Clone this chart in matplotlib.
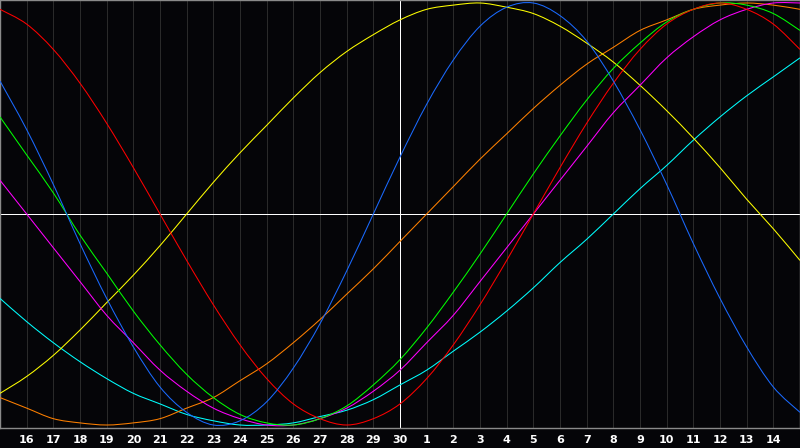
import matplotlib

matplotlib.use("Agg")
import matplotlib.pyplot as plt
import numpy as np
from matplotlib.patches import PathPatch
from matplotlib.path import Path

# Day labels under the grid lines (positions 1..29)
DAY_LABELS = ["16", "17", "18", "19", "20", "21", "22", "23", "24", "25", "26", "27", "28", "29", "30",
              "1", "2", "3", "4", "5", "6", "7", "8", "9", "10", "11", "12", "13", "14"]

# Cycle values read per day position 0..30 (-1 .. 1)
physical = [0.63, 0.40, 0.14, -0.14, -0.40, -0.63, -0.82, -0.94, -1.00, -0.98, -0.89, -0.73, -0.52, -0.27, 0.00,
            0.27, 0.52, 0.73, 0.89, 0.98, 1.00, 0.94, 0.82, 0.63, 0.40, 0.14, -0.14, -0.40, -0.63, -0.82, -0.94]
emotional = [0.97, 0.90, 0.78, 0.62, 0.43, 0.22, 0.00, -0.22, -0.43, -0.62, -0.78, -0.90, -0.97, -1.00, -0.97,
             -0.90, -0.78, -0.62, -0.43, -0.22, 0.00, 0.22, 0.43, 0.62, 0.78, 0.90, 0.97, 1.00, 0.97, 0.90, 0.78]
intellectual = [0.46, 0.28, 0.10, -0.10, -0.28, -0.46, -0.62, -0.76, -0.87, -0.95, -0.99, -1.00, -0.97, -0.91, -0.81,
                -0.69, -0.54, -0.37, -0.19, 0.00, 0.19, 0.37, 0.54, 0.69, 0.81, 0.91, 0.97, 1.00, 0.99, 0.95, 0.87]
intuitive = [0.16, 0.00, -0.16, -0.32, -0.48, -0.61, -0.74, -0.84, -0.92, -0.97, -1.00, -1.00, -0.97, -0.92, -0.84,
             -0.74, -0.61, -0.48, -0.32, -0.16, 0.00, 0.16, 0.32, 0.48, 0.61, 0.74, 0.84, 0.92, 0.97, 1.00, 1.00]
aesthetic = [-0.85, -0.77, -0.67, -0.55, -0.42, -0.29, -0.15, 0.00, 0.15, 0.29, 0.42, 0.55, 0.67, 0.77, 0.85,
             0.92, 0.97, 0.99, 1.00, 0.98, 0.95, 0.89, 0.81, 0.72, 0.61, 0.49, 0.36, 0.22, 0.07, -0.07, -0.22]
awareness = [-0.87, -0.92, -0.97, -0.99, -1.00, -0.99, -0.97, -0.92, -0.87, -0.79, -0.71, -0.61, -0.50, -0.38, -0.26,
             -0.13, 0.00, 0.13, 0.26, 0.38, 0.50, 0.61, 0.71, 0.79, 0.87, 0.92, 0.97, 0.99, 1.00, 0.99, 0.97]
spiritual = [-0.40, -0.51, -0.61, -0.70, -0.78, -0.85, -0.90, -0.95, -0.98, -1.00, -1.00, -0.99, -0.96, -0.93, -0.88,
             -0.81, -0.74, -0.65, -0.56, -0.46, -0.35, -0.23, -0.12, 0.00, 0.12, 0.23, 0.35, 0.46, 0.56, 0.65, 0.74]

TODAY_POS = 15

BG = "#050508"
GRID = "#2a2a2a"
BORDER = "#8a8a8a"

series = [
    (spiritual, "#00ffff"),
    (awareness, "#ff8000"),
    (aesthetic, "#ffff00"),
    (intuitive, "#ff00ff"),
    (intellectual, "#00ff00"),
    (emotional, "#ff0000"),
    (physical, "#1a6aff"),
]


def _smooth_path(xs, ys):
    """Catmull-Rom through the day points, drawn as cubic Bezier segments."""
    pts = np.column_stack([xs, ys]).astype(float)
    verts = [pts[0]]
    codes = [Path.MOVETO]
    n = len(pts)
    for i in range(n - 1):
        p0 = pts[i - 1] if i > 0 else pts[i]
        p1, p2 = pts[i], pts[i + 1]
        p3 = pts[i + 2] if i + 2 < n else pts[i + 1]
        verts += [p1 + (p2 - p0) / 6.0, p2 - (p3 - p1) / 6.0, p2]
        codes += [Path.CURVE4] * 3
    return Path(verts, codes)


fig = plt.figure(figsize=(8.0, 4.48), dpi=100, facecolor=BG)
ax = fig.add_axes([0.0, 20 / 448, 1.0, 428 / 448])
ax.set_facecolor(BG)

pos = np.arange(len(physical))
ax.set_xlim(0, 30)
ax.set_ylim(-214 / 211, 214 / 211)

for k in range(1, 30):
    if k != TODAY_POS:
        ax.axvline(k, color=GRID, linewidth=0.72, antialiased=False, zorder=1)
ax.axvline(TODAY_POS, color="white", linewidth=0.72, antialiased=False, zorder=2)
ax.axhline(0, color="white", linewidth=0.72, antialiased=False, zorder=2)

for vals, color in series:
    patch = PathPatch(_smooth_path(pos, vals), facecolor="none", edgecolor=color,
                      linewidth=0.75, zorder=3)
    ax.add_patch(patch)

ax.set_xticks(np.arange(1, 30))
ax.set_xticklabels(DAY_LABELS, color="white", fontsize=8, fontweight="bold")
ax.set_yticks([])
ax.tick_params(axis="x", length=0, pad=5)

for name, spine in ax.spines.items():
    spine.set_color(BORDER)
    spine.set_linewidth(1.0)

fig.savefig("out.png", dpi=100, facecolor=BG)
